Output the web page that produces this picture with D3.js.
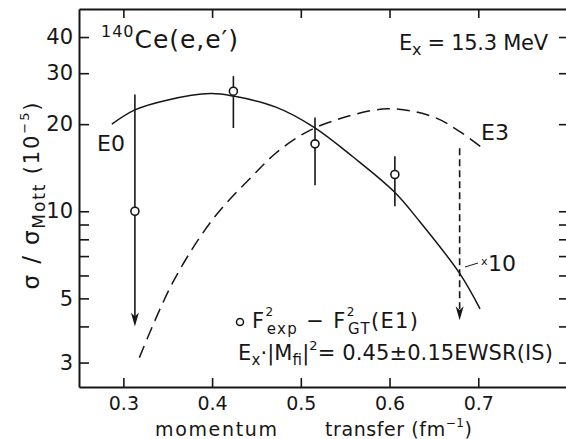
<!DOCTYPE html>
<html>
<head>
<meta charset="utf-8">
<script src="https://cdn.jsdelivr.net/npm/d3@7"></script>
<style>
  body { margin: 0; background: #fff; }
  svg { display: block; font-family: "DejaVu Sans", sans-serif; }
</style>
</head>
<body>
<div id="chart"></div>
<script>
// axis ticks
const xTicks = [0.3, 0.4, 0.5, 0.6, 0.7];
const yLabelTicks = [3, 5, 10, 20, 30, 40];
const yMinorTicks = [4, 6, 7, 8, 9];

// E0 curve (solid)
const e0Q = [0.287, 0.313, 0.349, 0.398, 0.424, 0.472, 0.515, 0.559, 0.605, 0.633, 0.679, 0.702];
const e0Val = [20.0, 22.4, 24.2, 25.5, 25.0, 22.9, 19.5, 15.4, 11.7, 9.3, 6.1, 4.6];

// E3 curve (dashed)
const e3Q = [0.318, 0.356, 0.401, 0.446, 0.472, 0.500, 0.528, 0.597, 0.649, 0.677, 0.705];
const e3Val = [3.12, 5.7, 9.4, 13.3, 15.9, 18.3, 20.1, 22.6, 21.2, 19.05, 16.5];

// measured points
const pointQ = [0.313, 0.424, 0.516, 0.606];
const pointVal = [10, 26.0, 17.1, 13.4];
const errLow = [4.0, 19.4, 12.3, 10.4];
const errHigh = [25.3, 29.3, 21.1, 15.5];
const isLimit = [true, false, false, false];

// dashed arrow on E3 (x10)
const e3ArrowQ = [0.679];
const e3ArrowTop = [16.5];
const e3ArrowBottom = [4.2];

const W = 566, H = 439;
const ink = '#161616';

const svg = d3.select('#chart').append('svg')
    .attr('width', W)
    .attr('height', H);

const x = d3.scaleLinear().domain([0.25, 0.80]).range([79, 567]);
const y = d3.scaleLog().domain([2.47, 50]).range([387, 9]);

function styleAxis(g, size) {
    g.attr('font-family', null).attr('font-size', null);
    g.select('.domain').attr('stroke', ink).attr('stroke-width', 2);
    g.selectAll('.tick line').attr('stroke', ink).attr('stroke-width', 1.6);
    g.selectAll('.tick text').attr('fill', ink).attr('font-size', size || 21);
}

const yAll = yLabelTicks.concat(yMinorTicks).sort((a, b) => a - b);

// left axis
svg.append('g')
    .attr('transform', 'translate(' + x(0.25) + ',0)')
    .call(d3.axisLeft(y).tickValues(yAll).tickSize(-10).tickSizeOuter(0).tickPadding(6)
        .tickFormat(d => yLabelTicks.includes(d) ? d : ''))
    .call(styleAxis, 21);

// right axis
svg.append('g')
    .attr('transform', 'translate(' + x(0.80) + ',0)')
    .call(d3.axisRight(y).tickValues(yAll).tickSize(-8).tickSizeOuter(0).tickFormat(''))
    .call(styleAxis);

// bottom axis
svg.append('g')
    .attr('transform', 'translate(0,' + y(2.47) + ')')
    .call(d3.axisBottom(x).tickValues(xTicks).tickSize(-9).tickSizeOuter(0).tickPadding(10)
        .tickFormat(d3.format('.1f')))
    .call(styleAxis, 19);

// top axis
svg.append('g')
    .attr('transform', 'translate(0,' + y(50) + ')')
    .call(d3.axisTop(x).tickValues(xTicks).tickSize(-9).tickSizeOuter(0).tickFormat(''))
    .call(styleAxis);

// curves
const line = d3.line()
    .x(d => x(d[0]))
    .y(d => y(d[1]))
    .curve(d3.curveCatmullRom.alpha(0.5));

svg.append('path')
    .datum(e0Q.map((q, i) => [q, e0Val[i]]))
    .attr('fill', 'none')
    .attr('stroke', ink)
    .attr('stroke-width', 1.5)
    .attr('d', line);

svg.append('path')
    .datum(e3Q.map((q, i) => [q, e3Val[i]]))
    .attr('fill', 'none')
    .attr('stroke', ink)
    .attr('stroke-width', 1.5)
    .attr('stroke-dasharray', '13,7')
    .attr('d', line);

// arrow head pointing down, tip at (cx, ty)
function arrowHead(cx, ty) {
    return 'M' + cx + ',' + ty + 'L' + (cx - 4) + ',' + (ty - 14) +
        'L' + cx + ',' + (ty - 10) + 'L' + (cx + 4) + ',' + (ty - 14) + 'Z';
}

// error bars and points
const pts = svg.append('g');
pointQ.forEach((q, i) => {
    pts.append('line')
        .attr('x1', x(q)).attr('x2', x(q))
        .attr('y1', y(errHigh[i])).attr('y2', y(errLow[i]) - (isLimit[i] ? 6 : 0))
        .attr('stroke', ink).attr('stroke-width', 1.6);
    if (isLimit[i]) {
        pts.append('path').attr('d', arrowHead(x(q), y(errLow[i]))).attr('fill', ink);
    }
    pts.append('circle')
        .attr('cx', x(q)).attr('cy', y(pointVal[i])).attr('r', 4)
        .attr('fill', '#fff').attr('stroke', ink).attr('stroke-width', 1.6);
});

// dashed arrow x10
e3ArrowQ.forEach((q, i) => {
    svg.append('line')
        .attr('x1', x(q)).attr('x2', x(q))
        .attr('y1', y(e3ArrowTop[i])).attr('y2', y(e3ArrowBottom[i]) - 6)
        .attr('stroke', ink).attr('stroke-width', 1.6)
        .attr('stroke-dasharray', '7,4');
    svg.append('path').attr('d', arrowHead(x(q), y(e3ArrowBottom[i]))).attr('fill', ink);
});

// text with sub/superscripts; parts: {t, s: size, b: baseline shift, back: stack over previous}
function rich(x0, y0, parts, opts) {
    opts = opts || {};
    const t = svg.append('text').attr('x', x0).attr('y', y0).attr('fill', ink);
    if (opts.transform) t.attr('transform', opts.transform);
    if (opts.anchor) t.attr('text-anchor', opts.anchor);
    let cur = 0, prevW = 0;
    parts.forEach(p => {
        const b = p.b || 0;
        const ts = t.append('tspan').attr('font-size', p.s).attr('dy', b - cur).text(p.t);
        if (p.back) ts.attr('dx', -prevW);
        cur = b;
        prevW = ts.node().getComputedTextLength();
    });
    if (opts.len) t.attr('textLength', opts.len).attr('lengthAdjust', 'spacing');
    return t;
}

// title and labels
rich(101, 48, [{ t: '140', s: 16, b: -11 }, { t: 'Ce(e,e\u2032)', s: 25 }], { len: 137 });
rich(399, 50, [{ t: 'E', s: 21 }, { t: 'x', s: 16, b: 5 }, { t: ' = 15.3 MeV', s: 21 }], { len: 149 });
rich(97, 151, [{ t: 'E0', s: 22 }]);
rich(481, 140, [{ t: 'E3', s: 22 }]);

// x10 note
svg.append('line')
    .attr('x1', 465).attr('y1', 267).attr('x2', 478).attr('y2', 263)
    .attr('stroke', ink).attr('stroke-width', 1);
rich(481, 265, [{ t: 'x', s: 11 }]);
rich(488, 271, [{ t: '10', s: 22 }]);

// legend
svg.append('circle')
    .attr('cx', 240).attr('cy', 322).attr('r', 3.5)
    .attr('fill', '#fff').attr('stroke', ink).attr('stroke-width', 1.5);
rich(252, 328, [
    { t: 'F', s: 21 }, { t: '2', s: 12, b: -12 }, { t: 'exp', s: 15, b: 6, back: true },
    { t: ' \u2212 ', s: 21 }, { t: 'F', s: 21 }, { t: '2', s: 12, b: -12 },
    { t: 'GT', s: 15, b: 6, back: true }, { t: '(E1)', s: 21 }
], { len: 166 });
rich(238, 360, [
    { t: 'E', s: 21 }, { t: 'x', s: 15, b: 5 }, { t: '\u00b7|M', s: 21 },
    { t: 'fi', s: 15, b: 5 }, { t: '|', s: 21 }, { t: '2', s: 13, b: -10 },
    { t: '= 0.45\u00b10.15EWSR(IS)', s: 21 }
], { len: 315 });

// axis titles
rich(155, 436, [{ t: 'momentum', s: 19 }], { len: 122 });
rich(325, 436, [{ t: 'transfer (fm', s: 19 }, { t: '\u22121', s: 12, b: -9 }, { t: ')', s: 19 }], { len: 147 });
rich(0, 0, [
    { t: '\u03c3 / \u03c3', s: 23 }, { t: 'Mott', s: 17, b: 6 }, { t: ' (10', s: 21 },
    { t: '\u22125', s: 13, b: -10 }, { t: ')', s: 21 }
], { transform: 'translate(39,196) rotate(-90)', anchor: 'middle', len: 187 });
</script>
</body>
</html>
